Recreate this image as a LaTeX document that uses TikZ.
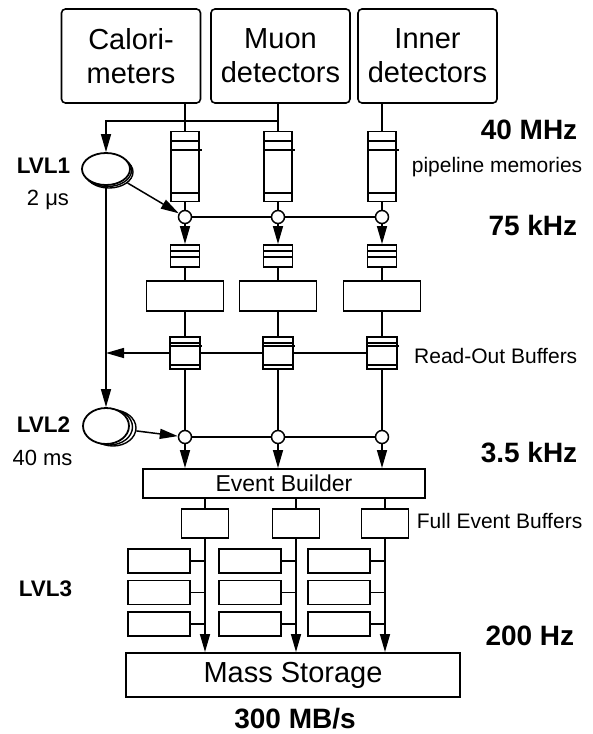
\documentclass[tikz,border=0pt]{standalone}
\usepackage{fontspec}
\setmainfont{Liberation Sans}
\usetikzlibrary{arrows.meta,shapes.geometric}

\tikzset{
  box/.style={draw, line width=1.9pt, inner sep=0pt},
  det/.style={box, line width=1.6pt, rounded corners=4pt, minimum width=139pt, minimum height=94pt, align=center, font=\fontsize{29}{34}\selectfont},
  pipe/.style={box, minimum width=28pt, minimum height=70pt},
  fifo/.style={box, minimum width=29pt, minimum height=22pt},
  rod/.style={box, minimum width=77pt, minimum height=30pt},
  rob/.style={box, minimum width=30pt, minimum height=32pt},
  feb/.style={box, minimum width=47pt, minimum height=29pt},
  proc/.style={box, minimum width=62pt, minimum height=24pt},
  junc/.style={circle, draw, line width=1.5pt, fill=white, inner sep=0pt, minimum size=13pt},
  trig/.style={ellipse, draw, line width=1.8pt, fill=white, inner sep=0pt},
  arr/.style={-{Triangle[length=18pt,width=10pt]}},
  rate/.style={anchor=base east, inner sep=0pt, font=\fontsize{28}{30}\selectfont\bfseries},
  note/.style={anchor=base east, inner sep=0pt, font=\fontsize{21}{24}\selectfont},
  lvl/.style={anchor=base, inner sep=0pt, font=\fontsize{22.5}{24}\selectfont\bfseries},
  lat/.style={anchor=base, inner sep=0pt, font=\fontsize{22}{24}\selectfont},
}

\begin{document}
\begin{tikzpicture}[x=1pt, y=-1pt, line width=1.5pt]
  \useasboundingbox (0,0) rectangle (593,734);

  % detectors
  \node[det] (cal) at (131,56) {Calori-\\meters};
  \node[det] (muon) at (280.5,56) {Muon\\detectors};
  \node[det] (inner) at (427.5,56) {Inner\\detectors};

  % trigger levels 1 and 2, each a stack of three ellipses
  \foreach \s in {2,1} {
    \node[trig, line width=1.4pt, minimum width=48pt, minimum height=32pt] (lvl1s\s) at (106+1.5*\s,169+1.5*\s) {};
    \node[trig, line width=1.4pt, minimum width=46pt, minimum height=36pt] (lvl2s\s) at (106+3.5*\s,426+1*\s) {};
  }
  \node[trig, minimum width=48pt, minimum height=32pt] (lvl1) at (106,169) {};
  \node[trig, minimum width=46pt, minimum height=36pt] (lvl2) at (106,426) {};

  \node[box, minimum width=282pt, minimum height=29pt, font=\fontsize{23}{26}\selectfont] (evb) at (284,483.5) {Event Builder};
  \node[box, minimum width=334pt, minimum height=44pt, font=\fontsize{29}{32}\selectfont] (ms) at (293,675) {Mass Storage};

  % one readout chain per detector
  \foreach \c/\d/\x in {a/cal/185, b/muon/278, c/inner/382} {
    \node[pipe] (pipe\c) at (\x,166.5) {};
    \draw[line width=1.8pt] (\x-14,141) -- (\x+14,141) (\x-14,150) -- (\x+17,150) (\x-14,193) -- (\x+14,193);
    \draw (pipe\c.north |- \d.south) -- (pipe\c);
    \node[junc] (ja\c) at (\x,217) {};
    \draw (pipe\c) -- (ja\c);
    \node[fifo] (fifo\c) at (\x,256) {};
    \draw[line width=1.8pt] (\x-14.5,251) -- (\x+14.5,251) (\x-14.5,257) -- (\x+14.5,257);
    \draw[arr] (ja\c) -- (fifo\c);
    \node[rod] (rod\c) at (\x,296) {};
    \draw (fifo\c) -- (rod\c);
    \node[rob] (rob\c) at (\x,353) {};
    \draw[line width=1.8pt] (\x-15,343) -- (\x+15,343) (\x-15,346) -- (\x+17,346) (\x-15,365) -- (\x+15,365);
    \draw (rod\c) -- (rob\c);
    \node[junc] (jb\c) at (\x,437) {};
    \draw (rob\c) -- (jb\c);
    \draw[arr] (jb\c) -- (jb\c |- evb.north);
  }

  % trigger paths
  \coordinate (tap) at (278,121);
  \draw[arr] (tap) -| (lvl1);
  \draw[arr] (lvl1s2) -- (jaa);
  \draw (jaa) -- (jab) -- (jac);
  \draw (robc) -- (robb) -- (roba);
  \draw[arr] (roba) -- (roba -| lvl1);
  \draw[arr] (lvl1) -- (lvl2);
  \draw[arr] (lvl2s2) -- (jba);
  \draw (jba) -- (jbb) -- (jbc);

  % full event buffers and level 3 farms
  \foreach \c/\x in {a/205, b/296, c/385} {
    \node[feb] (feb\c) at (\x,523.5) {};
    \draw (feb\c.north |- evb.south) -- (feb\c);
    \draw[arr] (feb\c) -- (feb\c |- ms.north);
    \foreach \r/\y in {1/561, 2/592.5, 3/624} {
      \node[proc] (pu\c\r) at (\x-46,\y) {};
      \draw (pu\c\r) -- (pu\c\r.east -| feb\c);
    }
  }

  % rates and labels
  \node[rate] (f40) at (578,139) {40 MHz};
  \node[note] (pipelab) at (583,172) {pipeline memories};
  \node[rate] (f75) at (578,235) {75 kHz};
  \node[note] (roblab) at (578,363) {Read-Out Buffers};
  \node[rate] (f35) at (578,462) {3.5 kHz};
  \node[note] (feblab) at (583,528) {Full Event Buffers};
  \node[rate] (f200) at (575,645) {200 Hz};
  \node[rate, anchor=base] (bw) at (295,728) {300 MB/s};

  \node[lvl] (l1) at (43.5,173) {LVL1};
  \node[lat] (t1) at (48,205) {2 μs};
  \node[lvl] (l2) at (43.5,432) {LVL2};
  \node[lat] (t2) at (42.5,465) {40 ms};
  \node[lvl] (l3) at (45.5,596) {LVL3};
\end{tikzpicture}
\end{document}
